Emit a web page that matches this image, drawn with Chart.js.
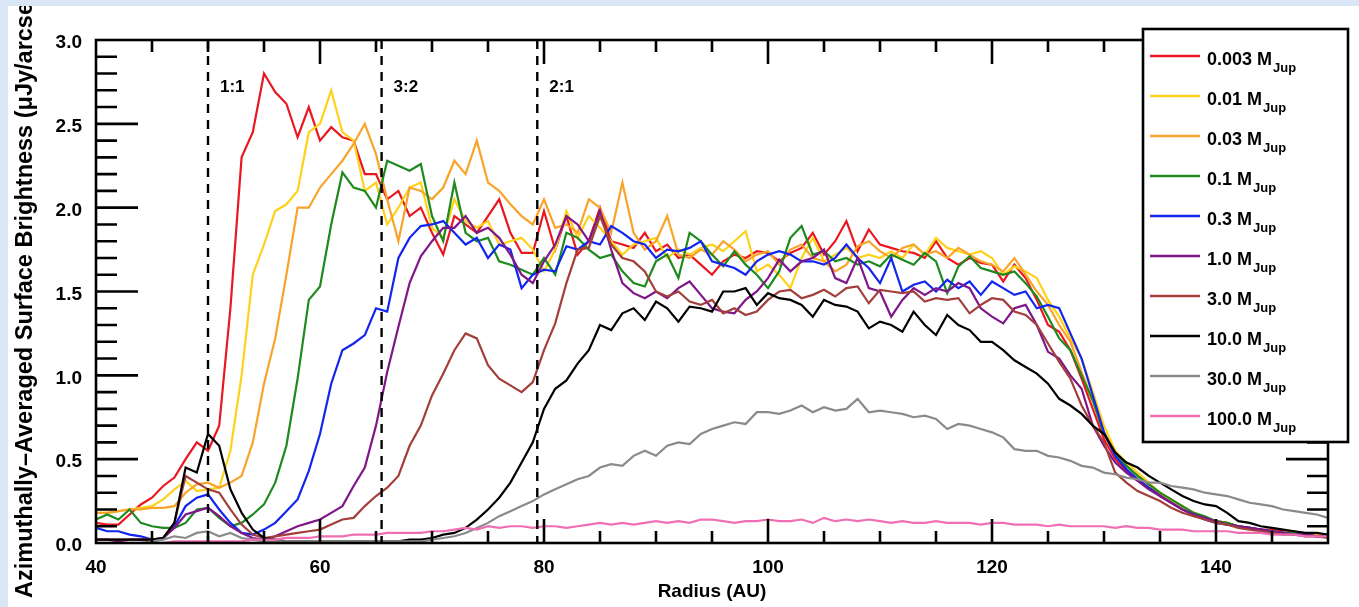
<!DOCTYPE html>
<html>
<head>
<meta charset="utf-8">
<script src="https://cdn.jsdelivr.net/npm/chart.js@4"></script>
<style>
html,body{margin:0;padding:0;background:#fff;}
canvas{display:block;}
</style>
</head>
<body>
<canvas id="c" width="1359" height="607"></canvas>
<script>
// ---------------- DATA ----------------
const radius = [40,41,42,43,44,45,46,47,48,49,50,51,52,53,54,55,56,57,58,59,60,61,62,63,64,65,66,67,68,69,70,71,72,73,74,75,76,77,78,79,80,81,82,83,84,85,86,87,88,89,90,91,92,93,94,95,96,97,98,99,100,101,102,103,104,105,106,107,108,109,110,111,112,113,114,115,116,117,118,119,120,121,122,123,124,125,126,127,128,129,130,131,132,133,134,135,136,137,138,139,140,141,142,143,144,145,146,147,148,149,150];

const m0003 = [0.12,0.11,0.11,0.17,0.23,0.27,0.34,0.39,0.50,0.60, 0.55,0.70,1.40,2.30,2.45,2.80,2.69,2.62,2.42,2.60, 2.40,2.48,2.42,2.40,2.20,2.20,2.05,2.10,1.95,2.00, 1.85,1.72,1.95,1.90,1.85,1.95,2.05,1.85,1.73,1.73, 1.98,1.75,1.95,1.72,1.80,2.00,1.80,1.78,1.76,1.85, 1.74,1.78,1.70,1.72,1.66,1.60,1.68,1.72,1.70,1.74, 1.73,1.68,1.73,1.76,1.85,1.72,1.80,1.92,1.74,1.87, 1.78,1.76,1.74,1.73,1.70,1.80,1.70,1.66,1.70,1.67, 1.66,1.56,1.66,1.58,1.45,1.30,1.26,1.15,0.98,0.80, 0.62,0.50,0.43,0.38,0.33,0.29,0.25,0.21,0.18,0.15, 0.13,0.12,0.10,0.09,0.08,0.08,0.07,0.06,0.05,0.05,0.04];
const m001 = [0.18,0.18,0.19,0.20,0.21,0.22,0.26,0.32,0.37,0.31, 0.32,0.33,0.55,1.00,1.60,1.78,1.98,2.02,2.10,2.45, 2.50,2.70,2.45,2.40,2.10,2.15,1.90,2.00,2.12,2.15, 1.88,1.82,2.05,1.92,1.88,1.92,1.78,1.80,1.82,1.75, 1.62,1.75,1.98,1.82,1.95,1.88,1.80,1.72,1.78,1.80, 1.82,1.70,1.75,1.72,1.76,1.78,1.74,1.80,1.86,1.62, 1.66,1.60,1.52,1.70,1.82,1.68,1.72,1.76,1.70,1.72, 1.70,1.74,1.70,1.78,1.72,1.82,1.76,1.74,1.72,1.74, 1.70,1.60,1.65,1.62,1.58,1.45,1.35,1.22,1.10,0.90, 0.70,0.55,0.48,0.42,0.36,0.30,0.25,0.21,0.18,0.15, 0.13,0.11,0.10,0.09,0.08,0.07,0.06,0.06,0.05,0.05,0.04];
const m003 = [0.18,0.18,0.19,0.20,0.20,0.21,0.21,0.22,0.30,0.35, 0.36,0.33,0.36,0.40,0.60,0.95,1.22,1.60,2.00,2.00, 2.12,2.20,2.28,2.38,2.50,2.32,2.05,1.80,2.12,2.10, 2.05,2.12,2.28,2.20,2.40,2.15,2.10,2.02,1.95,1.90, 2.05,1.88,1.90,1.85,2.05,2.00,1.85,2.15,1.85,1.75, 1.80,1.95,1.72,1.70,1.75,1.72,1.80,1.75,1.68,1.72, 1.74,1.66,1.75,1.78,1.70,1.68,1.62,1.66,1.77,1.80, 1.74,1.70,1.76,1.78,1.72,1.74,1.70,1.76,1.72,1.68, 1.66,1.62,1.70,1.60,1.50,1.42,1.30,1.20,1.02,0.85, 0.66,0.54,0.46,0.40,0.35,0.30,0.26,0.22,0.18,0.15, 0.13,0.12,0.10,0.09,0.08,0.07,0.06,0.06,0.05,0.05,0.04];
const m01 = [0.14,0.17,0.14,0.20,0.12,0.10,0.09,0.09,0.12,0.20, 0.21,0.15,0.10,0.12,0.17,0.23,0.36,0.58,0.98,1.45, 1.53,1.90,2.21,2.12,2.10,2.00,2.28,2.25,2.22,2.26, 1.95,1.80,2.15,1.85,1.80,1.82,1.68,1.66,1.63,1.60, 1.70,1.60,1.85,1.82,1.75,1.70,1.72,1.62,1.55,1.53, 1.68,1.72,1.58,1.85,1.80,1.72,1.65,1.74,1.66,1.60, 1.52,1.62,1.82,1.89,1.72,1.74,1.68,1.70,1.66,1.68, 1.65,1.72,1.69,1.66,1.73,1.68,1.49,1.65,1.71,1.64, 1.62,1.60,1.62,1.55,1.47,1.35,1.22,1.15,1.00,0.85, 0.65,0.54,0.46,0.40,0.35,0.30,0.26,0.22,0.18,0.16, 0.13,0.12,0.10,0.09,0.08,0.07,0.06,0.06,0.05,0.04,0.04];
const m03 = [0.09,0.07,0.07,0.05,0.04,0.02,0.03,0.10,0.22,0.27, 0.29,0.20,0.12,0.06,0.05,0.08,0.12,0.19,0.26,0.43, 0.65,0.95,1.15,1.19,1.24,1.40,1.38,1.70,1.82,1.89, 1.90,1.92,1.85,1.78,1.82,1.70,1.78,1.75,1.52,1.60, 1.63,1.62,1.77,1.75,1.80,1.78,1.89,1.85,1.80,1.78, 1.70,1.75,1.74,1.76,1.80,1.68,1.66,1.64,1.60,1.68, 1.72,1.74,1.72,1.68,1.68,1.66,1.70,1.78,1.70,1.64, 1.55,1.70,1.50,1.54,1.56,1.50,1.57,1.52,1.56,1.48, 1.56,1.52,1.48,1.50,1.40,1.42,1.40,1.25,1.10,0.88, 0.66,0.52,0.44,0.38,0.33,0.28,0.24,0.20,0.17,0.14, 0.12,0.11,0.10,0.09,0.08,0.07,0.06,0.05,0.05,0.04,0.04];
const m10 = [0.02,0.02,0.01,0.02,0.02,0.02,0.03,0.09,0.17,0.19, 0.21,0.16,0.10,0.06,0.03,0.02,0.04,0.07,0.10,0.12, 0.14,0.18,0.22,0.34,0.45,0.70,1.02,1.29,1.55,1.71, 1.80,1.88,1.88,1.95,1.85,1.88,1.82,1.72,1.60,1.55, 1.68,1.78,1.95,1.90,1.80,1.98,1.75,1.55,1.49,1.46, 1.50,1.46,1.52,1.56,1.48,1.40,1.38,1.37,1.45,1.50, 1.58,1.69,1.62,1.68,1.70,1.75,1.58,1.55,1.70,1.52, 1.50,1.35,1.45,1.52,1.48,1.52,1.50,1.55,1.52,1.40, 1.35,1.31,1.40,1.42,1.30,1.14,1.10,1.00,0.92,0.70, 0.58,0.48,0.42,0.37,0.32,0.28,0.24,0.20,0.17,0.15, 0.13,0.11,0.10,0.09,0.08,0.07,0.06,0.05,0.05,0.04,0.04];
const m30 = [0.02,0.02,0.02,0.02,0.02,0.02,0.03,0.12,0.40,0.36, 0.32,0.30,0.20,0.11,0.05,0.03,0.04,0.05,0.06,0.07, 0.08,0.11,0.14,0.15,0.22,0.28,0.33,0.40,0.58,0.70, 0.88,1.01,1.15,1.25,1.22,1.06,0.98,0.94,0.90,0.96, 1.15,1.31,1.55,1.75,1.76,1.95,1.78,1.70,1.68,1.62, 1.50,1.47,1.50,1.44,1.42,1.45,1.37,1.40,1.36,1.38, 1.45,1.50,1.51,1.46,1.48,1.51,1.47,1.52,1.53,1.43, 1.51,1.50,1.49,1.50,1.44,1.46,1.45,1.46,1.37,1.42, 1.46,1.45,1.38,1.36,1.30,1.19,1.08,0.98,0.82,0.70, 0.60,0.42,0.36,0.31,0.28,0.25,0.21,0.18,0.16,0.14, 0.12,0.11,0.09,0.08,0.07,0.06,0.05,0.05,0.04,0.04,0.03];
const m100 = [0.02,0.02,0.02,0.02,0.02,0.02,0.03,0.12,0.45,0.42, 0.65,0.58,0.32,0.18,0.08,0.03,0.02,0.01,0.01,0.01, 0.01,0.01,0.01,0.01,0.01,0.01,0.01,0.01,0.02,0.02, 0.03,0.05,0.06,0.09,0.14,0.20,0.27,0.36,0.48,0.60, 0.80,0.92,0.97,1.07,1.15,1.30,1.27,1.37,1.40,1.33, 1.44,1.40,1.32,1.41,1.40,1.38,1.50,1.50,1.52,1.42, 1.49,1.46,1.45,1.42,1.35,1.45,1.42,1.41,1.38,1.28, 1.32,1.30,1.26,1.38,1.30,1.24,1.36,1.30,1.27,1.20, 1.20,1.15,1.09,1.05,1.01,0.95,0.86,0.82,0.77,0.70, 0.65,0.54,0.48,0.45,0.40,0.36,0.32,0.28,0.25,0.23, 0.22,0.18,0.13,0.12,0.10,0.09,0.08,0.07,0.06,0.06,0.05];
const m300 = [0.00,0.00,0.00,0.00,0.00,0.01,0.02,0.04,0.03,0.06, 0.07,0.04,0.06,0.03,0.02,0.01,0.01,0.01,0.01,0.01, 0.01,0.01,0.01,0.01,0.01,0.01,0.01,0.01,0.01,0.01, 0.02,0.03,0.04,0.06,0.09,0.12,0.16,0.19,0.22,0.25, 0.29,0.32,0.35,0.38,0.40,0.45,0.47,0.46,0.52,0.55, 0.52,0.58,0.60,0.59,0.65,0.68,0.70,0.72,0.71,0.78, 0.78,0.77,0.79,0.82,0.78,0.81,0.79,0.80,0.86,0.78, 0.79,0.78,0.77,0.75,0.76,0.74,0.68,0.71,0.70,0.68, 0.66,0.63,0.56,0.55,0.55,0.52,0.51,0.49,0.46,0.45, 0.42,0.41,0.39,0.38,0.36,0.36,0.34,0.33,0.32,0.30, 0.29,0.28,0.26,0.24,0.23,0.22,0.20,0.19,0.18,0.17,0.15];
const m1000 = [0.00,0.00,0.00,0.00,0.00,0.00,0.00,0.01,0.01,0.01, 0.01,0.01,0.01,0.01,0.02,0.02,0.02,0.03,0.03,0.03, 0.04,0.04,0.04,0.05,0.05,0.05,0.06,0.06,0.06,0.06, 0.07,0.07,0.08,0.09,0.08,0.10,0.09,0.10,0.10,0.09, 0.10,0.10,0.09,0.10,0.11,0.12,0.11,0.12,0.11,0.12, 0.13,0.12,0.13,0.12,0.14,0.14,0.13,0.12,0.13,0.13, 0.14,0.13,0.13,0.14,0.12,0.15,0.13,0.14,0.13,0.14, 0.13,0.12,0.13,0.12,0.12,0.13,0.12,0.12,0.12,0.11, 0.12,0.12,0.11,0.11,0.11,0.10,0.11,0.10,0.10,0.10, 0.10,0.09,0.10,0.09,0.09,0.08,0.08,0.08,0.07,0.07, 0.07,0.07,0.06,0.06,0.06,0.05,0.05,0.05,0.04,0.04,0.04];

const massLabels = ['0.003','0.01','0.03','0.1','0.3','1.0','3.0','10.0','30.0','100.0'];
const seriesValues = [m0003, m001, m003, m01, m03, m10, m30, m100, m300, m1000];
const seriesColors = ['#ea1620','#ffd21a','#f8a42a','#1e8a1e','#1226ee','#7f168a','#a33f3a','#000000','#8a8a8a','#f06eb4'];

const xTickLabels = [40,60,80,100,120,140];
const yTickLabels = [0,0.5,1.0,1.5,2.0,2.5,3.0];
const resonanceR = [50, 65.5, 79.4];
const resonanceLabels = ['1:1','3:2','2:1'];

const yTitle = 'Azimuthally\u2013Averaged Surface Brightness (\u03bcJy/arcsec\u00b2)';
const xTitle = 'Radius (AU)';

// ---------------- CHART ----------------
const FONT = '"Liberation Sans", Arial, Helvetica, sans-serif';

const datasets = seriesValues.map((vals, i) => ({
  label: massLabels[i] + ' M',
  data: vals.map((v, j) => ({x: radius[j], y: v})),
  borderColor: seriesColors[i],
  backgroundColor: seriesColors[i],
  borderWidth: 2.2,
  pointRadius: 0,
  tension: 0,
  fill: false,
  order: seriesValues.length - i
}));

const decorPlugin = {
  id: 'decor',
  afterDatasetsDraw(chart) {
    const ctx = chart.ctx, a = chart.chartArea;
    const xs = chart.scales.x;
    ctx.save();
    ctx.strokeStyle = '#000';
    ctx.lineWidth = 2.4;
    ctx.setLineDash([9, 7]);
    resonanceR.forEach((r) => {
      const px = xs.getPixelForValue(r);
      ctx.beginPath();
      ctx.moveTo(px, a.top);
      ctx.lineTo(px, a.bottom);
      ctx.stroke();
    });
    ctx.setLineDash([]);
    ctx.fillStyle = '#000';
    ctx.font = 'bold 17px ' + FONT;
    ctx.textAlign = 'left';
    ctx.textBaseline = 'alphabetic';
    resonanceR.forEach((r, i) => {
      const px = xs.getPixelForValue(r);
      ctx.fillText(resonanceLabels[i], px + 12, 92);
    });
    ctx.restore();
  },
  afterDraw(chart) {
    const ctx = chart.ctx, a = chart.chartArea;
    const xs = chart.scales.x, ys = chart.scales.y;
    ctx.save();
    ctx.strokeStyle = '#000';
    ctx.lineWidth = 2.6;
    ctx.lineCap = 'butt';
    ctx.beginPath();
    for (let k = 1; k < 30; k++) {
      const py = ys.getPixelForValue(k / 10);
      const len = (k % 5 === 0) ? 42 : 21;
      ctx.moveTo(a.left, py); ctx.lineTo(a.left + len, py);
      ctx.moveTo(a.right, py); ctx.lineTo(a.right - len, py);
    }
    for (let r = 45; r < 150; r += 5) {
      const px = xs.getPixelForValue(r);
      const len = (r % 20 === 0) ? 24 : 12;
      ctx.moveTo(px, a.bottom); ctx.lineTo(px, a.bottom - len);
      ctx.moveTo(px, a.top); ctx.lineTo(px, a.top + len);
    }
    ctx.stroke();
    ctx.strokeRect(a.left, a.top, a.right - a.left, a.bottom - a.top);

    // legend
    const lx = 1143, ly = 29, lw = 205, lh = 413;
    ctx.fillStyle = '#fff';
    ctx.fillRect(lx, ly, lw, lh);
    ctx.lineWidth = 2.6;
    ctx.strokeRect(lx, ly, lw, lh);
    chart.data.datasets.forEach((ds, i) => {
      const cy = 56 + 40 * i;
      ctx.strokeStyle = ds.borderColor;
      ctx.lineWidth = 2.4;
      ctx.beginPath();
      ctx.moveTo(1150, cy); ctx.lineTo(1200, cy);
      ctx.stroke();
      ctx.fillStyle = '#000';
      ctx.font = 'bold 18px ' + FONT;
      ctx.textAlign = 'left';
      ctx.textBaseline = 'alphabetic';
      ctx.fillText(ds.label, 1207, cy + 9);
      const w = ctx.measureText(ds.label).width;
      ctx.font = 'bold 13px ' + FONT;
      ctx.fillText('Jup', 1207 + w + 1, cy + 16);
    });

    // y title
    ctx.fillStyle = '#000';
    ctx.font = 'bold 23.5px ' + FONT;
    const tw = ctx.measureText(yTitle).width;
    ctx.save();
    ctx.translate(26, 598 - tw / 2);
    ctx.rotate(-Math.PI / 2);
    ctx.textAlign = 'center';
    ctx.textBaseline = 'middle';
    ctx.fillText(yTitle, 0, 0);
    ctx.restore();

    // light blue frame
    ctx.fillStyle = '#d8e6f5';
    ctx.fillRect(0, 0, chart.width, 6);
    ctx.fillRect(0, 0, 8, chart.height);
    ctx.restore();
  }
};

new Chart(document.getElementById('c'), {
  type: 'line',
  data: { datasets },
  options: {
    responsive: false,
    animation: false,
    devicePixelRatio: 1,
    layout: { padding: { left: 0, right: 31, top: 40, bottom: 0 } },
    plugins: { legend: { display: false }, tooltip: { enabled: false } },
    scales: {
      x: {
        type: 'linear',
        min: 40, max: 150,
        afterBuildTicks: s => { s.ticks = xTickLabels.map(v => ({ value: v })); },
        afterFit: s => { s.height = 64; },
        grid: { display: false, drawTicks: false },
        border: { display: false },
        ticks: { color: '#000', font: { family: FONT, size: 19, weight: 'bold' }, padding: 13, maxRotation: 0, autoSkip: false },
        title: { display: true, text: xTitle, color: '#000', font: { family: FONT, size: 19, weight: 'bold' }, padding: { top: 0, bottom: 4 } }
      },
      y: {
        type: 'linear',
        min: 0, max: 3,
        afterBuildTicks: s => { s.ticks = yTickLabels.map(v => ({ value: v })); },
        afterFit: s => { s.width = 96; },
        grid: { display: false, drawTicks: false },
        border: { display: false },
        ticks: { color: '#000', font: { family: FONT, size: 19, weight: 'bold' }, padding: 14, labelOffset: 3, callback: v => Number(v).toFixed(1) }
      }
    }
  },
  plugins: [decorPlugin]
});
</script>
</body>
</html>
